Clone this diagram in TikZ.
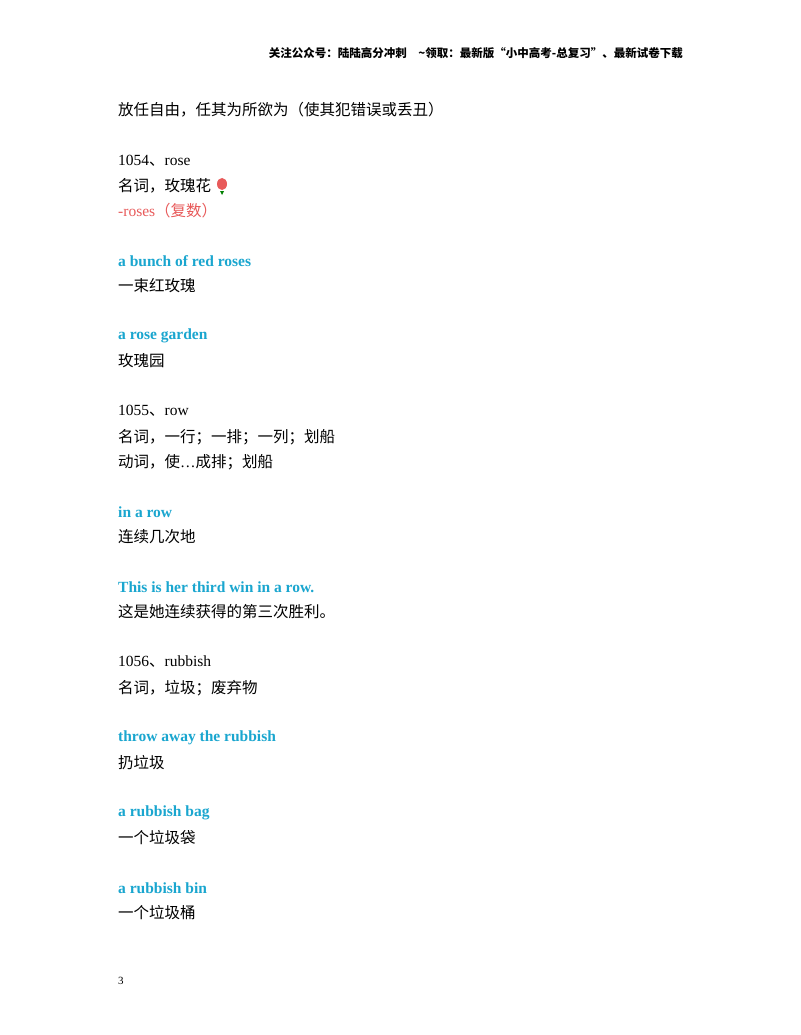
\documentclass[tikz,border=0pt]{standalone}
\usepackage{fontspec}
\setmainfont{Liberation Serif}
\newfontfamily\cjk{Noto Sans CJK SC}
\definecolor{kwblue}{HTML}{1AA6CF}
\definecolor{kwred}{HTML}{E85A5A}
\begin{document}
\begin{tikzpicture}[x=1pt,y=-1pt,
  body/.style={anchor=west,inner sep=0pt,font=\fontsize{15.5}{18}\selectfont},
  kw/.style={body,text=kwblue,font=\fontsize{15.5}{18}\selectfont\bfseries},
  hdr/.style={anchor=east,inner sep=0pt,font=\fontsize{11.5}{14}\selectfont\cjk\bfseries}]
\useasboundingbox[fill=white] (0,0) rectangle (800,1035);
\node[hdr] (h) at (683,53) {关注公众号：陆陆高分冲刺\quad \textasciitilde 领取：最新版“小中高考-总复习”、最新试卷下载};
\node[body] (l1) at (118,110) {\cjk 放任自由，任其为所欲为（使其犯错误或丢丑）};
\node[body] (l2) at (118,161) {1054{\cjk 、}rose};
\node[body] (l3) at (118,186) {\cjk 名词，玫瑰花};
\node[body,text=kwred] (l4) at (118,211) {-roses{\cjk （复数）}};
\fill[kwred] (222,184) ellipse (5 and 6);
\fill[green!50!black] (220,191) -- (224,191) -- (222,195) -- cycle;
\node[kw] (l5) at (118,261) {a bunch of red roses};
\node[body] (l6) at (118,286) {\cjk 一束红玫瑰};
\node[kw] (l7) at (118,336) {a rose garden};
\node[body] (l8) at (118,361) {\cjk 玫瑰园};
\node[body] (l9) at (118,411) {1055{\cjk 、}row};
\node[body] (l10) at (118,437) {\cjk 名词，一行；一排；一列；划船};
\node[body] (l11) at (118,462) {{\cjk 动词，使}…{\cjk 成排；划船}};
\node[kw] (l12) at (118,512) {in a row};
\node[body] (l13) at (118,537) {\cjk 连续几次地};
\node[kw] (l14) at (118,587) {This is her third win in a row.};
\node[body] (l15) at (118,612) {\cjk 这是她连续获得的第三次胜利。};
\node[body] (l16) at (118,662) {1056{\cjk 、}rubbish};
\node[body] (l17) at (118,688) {\cjk 名词，垃圾；废弃物};
\node[kw] (l18) at (118,738) {throw away the rubbish};
\node[body] (l19) at (118,763) {\cjk 扔垃圾};
\node[kw] (l20) at (118,813) {a rubbish bag};
\node[body] (l21) at (118,838) {\cjk 一个垃圾袋};
\node[kw] (l22) at (118,888) {a rubbish bin};
\node[body] (l23) at (118,913) {\cjk 一个垃圾桶};
\node[anchor=west,inner sep=0pt,font=\fontsize{11}{13}\selectfont] (pg) at (118,981) {3};
\end{tikzpicture}
\end{document}
